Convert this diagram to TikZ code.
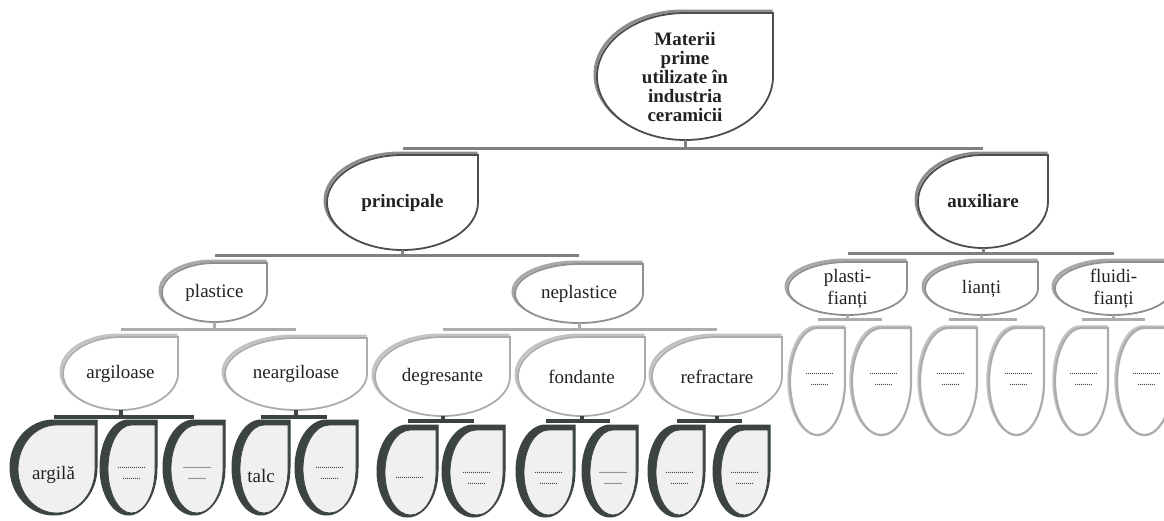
\documentclass[tikz,border=0pt]{standalone}
\usepackage{fontspec}
\setmainfont{Liberation Serif}
\usetikzlibrary{calc}
\pgfdeclarelayer{bg}
\pgfsetlayers{bg,main}
\definecolor{cone}{HTML}{4D4D4D}
\definecolor{conesh}{HTML}{8C8C8C}
\definecolor{ctwo}{HTML}{8F8F8F}
\definecolor{ctwosh}{HTML}{A8A8A8}
\definecolor{cthree}{HTML}{ACACAC}
\definecolor{cthreesh}{HTML}{C2C2C2}
\definecolor{cdark}{HTML}{3B4343}
\definecolor{clight}{HTML}{F0F0F0}
\definecolor{ctext}{HTML}{222222}
\definecolor{cdash}{HTML}{444444}
% node box: name, x1, y1, x2, y2, style, text
\newcommand\bx[7]{\node[#6,minimum width={#4pt-#2pt},minimum height={#5pt-#3pt}] (#1) at ({(#2+#4)/2},{(#3+#5)/2}) {#7};}
% teardrop inside a node box: style, node, insets left, top, right, bottom
\newcommand\tdrop[6]{%
 \path[#1] let \p1=(#2.south west), \p2=(#2.north east) in
 ({\x2-(#5)},{\y2-(#4)}) -- ({\x2-(#5)},{(\y1+(#6)+\y2-(#4))/2})
 arc[start angle=0,end angle=-90,x radius={(\x2-\x1-(#3)-(#5))/2},y radius={(\y2-\y1-(#4)-(#6))/2}]
 arc[start angle=-90,end angle=-180,x radius={(\x2-\x1-(#3)-(#5))/2},y radius={(\y2-\y1-(#4)-(#6))/2}]
 arc[start angle=180,end angle=90,x radius={(\x2-\x1-(#3)-(#5))/2},y radius={(\y2-\y1-(#4)-(#6))/2}]
 -- cycle;}
\newcommand\dashA{..............}
\newcommand\dashB{.........}
\begin{document}
\begin{tikzpicture}[x=1pt,y=-1pt,
  base/.style={inner sep=0pt,outer sep=0pt,align=center,text=ctext},
  nbold/.style={base,font=\fontsize{19}{19}\selectfont\bfseries},
  nreg/.style={base,font=\fontsize{19}{22}\selectfont},
  nleaf/.style={base},
  dsh/.style={inner sep=0pt,align=center,text=cdash,font=\fontsize{8}{11}\selectfont\bfseries},
  sone/.style={draw=cone,line width=1.8pt,fill=white},
  sonesh/.style={draw=conesh,line width=3pt},
  stwo/.style={draw=ctwo,line width=1.8pt,fill=white},
  stwosh/.style={draw=ctwosh,line width=3pt},
  sthree/.style={draw=cthree,line width=1.8pt,fill=white},
  sthreesh/.style={draw=cthreesh,line width=3pt},
  leafo/.style={fill=cdark,draw=cdark,line width=1pt},
  leafi/.style={fill=clight,draw=cdark,line width=0.8pt},
  rleaf/.style={draw=cthree,line width=2.2pt,fill=white},
  rleafsh/.style={draw=cthreesh,line width=2.5pt},
  barone/.style={draw=gray,line width=3pt},
  bartwo/.style={draw=cthree,line width=3pt},
  bardark/.style={draw=cdark,line width=4pt}]
\useasboundingbox (0,0) rectangle (1164,520);
% level 1
\bx{T}{597}{13}{773}{140}{nbold}{Materii\\prime\\utilizate în\\industria\\ceramicii}
\bx{P}{327}{155}{478}{250}{nbold}{principale}
\bx{A}{918}{155}{1048}{248}{nbold}{auxiliare}
% level 2
\bx{PL}{162}{263}{267}{322}{nreg}{plastice}
\bx{NP}{515}{264}{643}{323}{nreg}{neplastice}
\bx{PF}{788}{262}{907}{315}{nreg}{plasti-\\fianți}
\bx{LI}{925}{262}{1038}{315}{nreg}{lianți}
\bx{FF}{1055}{262}{1172}{315}{nreg}{fluidi-\\fianți}
% level 3
\bx{AR}{63}{337}{178}{410}{nreg}{argiloase}
\bx{NA}{225}{338}{367}{410}{nreg}{neargiloase}
\bx{DG}{375}{337}{510}{416}{nreg}{degresante}
\bx{FO}{518}{337}{645}{416}{nreg}{fondante}
\bx{RF}{652}{337}{782}{416}{nreg}{refractare}
% dark leaves
\bx{L1}{10}{420}{97}{515}{nleaf}{}
\bx{L2}{100}{420}{157}{515}{nleaf}{}
\bx{L3}{163}{420}{225}{515}{nleaf}{}
\bx{L4}{232}{420}{290}{515}{nleaf}{}
\bx{L5}{295}{420}{358}{515}{nleaf}{}
\bx{L6}{377}{425}{438}{517}{nleaf}{}
\bx{L7}{442}{425}{505}{517}{nleaf}{}
\bx{L8}{516}{425}{575}{517}{nleaf}{}
\bx{L9}{582}{425}{638}{517}{nleaf}{}
\bx{L10}{648}{425}{705}{517}{nleaf}{}
\bx{L11}{713}{425}{770}{517}{nleaf}{}
% light leaves
\bx{R1}{790}{328}{845}{435}{nleaf}{}
\bx{R2}{852}{328}{911}{435}{nleaf}{}
\bx{R3}{920}{328}{977}{435}{nleaf}{}
\bx{R4}{989}{328}{1044}{435}{nleaf}{}
\bx{R5}{1055}{328}{1108}{435}{nleaf}{}
\bx{R6}{1117}{328}{1172}{435}{nleaf}{}
% leaf texts
\node[nreg] (t1) at ($(L1.center)+(0,7)$) {argilă};
\node[dsh] (t2) at ($(L2.center)+(3,6)$) {\dashA\\\dashB};
\node[dsh] (t3) at ($(L3.center)+(3,6)$) {\dashA\\\dashB};
\node[nreg] (t4) at ($(L4.center)+(0,8)$) {talc};
\node[dsh] (t5) at ($(L5.center)+(3,6)$) {\dashA\\\dashB};
\node[dsh] (t6) at ($(L6.center)+(2,7)$) {\dashA};
\node[dsh] (t7) at ($(L7.center)+(3,7)$) {\dashA\\\dashB};
\node[dsh] (t8) at ($(L8.center)+(3,7)$) {\dashA\\\dashB};
\node[dsh] (t9) at ($(L9.center)+(3,7)$) {\dashA\\\dashB};
\node[dsh] (t10) at ($(L10.center)+(3,7)$) {\dashA\\\dashB};
\node[dsh] (t11) at ($(L11.center)+(3,7)$) {\dashA\\\dashB};
\node[dsh] (r1) at ($(R1.center)+(2,-2)$) {\dashA\\\dashB};
\node[dsh] (r2) at ($(R2.center)+(2,-2)$) {\dashA\\\dashB};
\node[dsh] (r3) at ($(R3.center)+(2,-2)$) {\dashA\\\dashB};
\node[dsh] (r4) at ($(R4.center)+(2,-2)$) {\dashA\\\dashB};
\node[dsh] (r5) at ($(R5.center)+(2,-2)$) {\dashA\\\dashB};
\node[dsh] (r6) at ($(R6.center)+(2,-2)$) {\dashA\\\dashB};
\begin{pgfonlayer}{bg}
\foreach \nm in {T,P,A}{\tdrop{sonesh}{\nm}{-2pt}{-2pt}{2pt}{2pt}\tdrop{sone}{\nm}{0pt}{0pt}{0pt}{0pt}}
\foreach \nm in {PL,NP,PF,LI,FF}{\tdrop{stwosh}{\nm}{-2pt}{-2pt}{2pt}{2pt}\tdrop{stwo}{\nm}{0pt}{0pt}{0pt}{0pt}}
\foreach \nm in {AR,NA,DG,FO,RF}{\tdrop{sthreesh}{\nm}{-2pt}{-2pt}{2pt}{2pt}\tdrop{sthree}{\nm}{0pt}{0pt}{0pt}{0pt}}
\foreach \nm in {L1,L2,L3,L4,L5,L6,L7,L8,L9,L10,L11}{\tdrop{leafo}{\nm}{0pt}{0pt}{0pt}{0pt}\tdrop{leafi}{\nm}{8pt}{5pt}{2pt}{2pt}}
\foreach \nm in {R1,R2,R3,R4,R5,R6}{\tdrop{rleafsh}{\nm}{-1.5pt}{-1.5pt}{1.5pt}{1.5pt}\tdrop{rleaf}{\nm}{0pt}{0pt}{0pt}{0pt}}
% connectors
\coordinate (bT) at ($(T.south)+(0,8)$);
\draw[barone] (T.south) -- (bT);
\draw[barone] (bT -| P.north) -- (bT -| A.north);
\coordinate (bP) at ($(P.south)+(0,5)$);
\draw[barone] (P.south) -- (bP);
\draw[barone] (bP -| PL.north) -- (bP -| NP.north);
\coordinate (bA) at ($(A.south)+(0,5)$);
\draw[barone] (A.south) -- (bA);
\draw[barone] (bA -| PF.north) -- (bA -| FF.north);
\coordinate (bPL) at ($(PL.south)+(0,7)$);
\draw[bartwo] (PL.south) -- (bPL);
\draw[bartwo] (bPL -| AR.north) -- (bPL -| NA.north);
\coordinate (bNP) at ($(NP.south)+(0,6)$);
\draw[bartwo] (NP.south) -- (bNP);
\draw[bartwo] (bNP -| DG.north) -- (bNP -| RF.north);
\coordinate (bAR) at ($(AR.south)+(0,7)$);
\draw[bardark] (AR.south) -- (bAR);
\draw[bardark] (bAR -| L1.north) -- (bAR -| L3.north);
\coordinate (bNA) at ($(NA.south)+(0,7)$);
\draw[bardark] (NA.south) -- (bNA);
\draw[bardark] (bNA -| L4.north) -- (bNA -| L5.north);
\coordinate (bDG) at ($(DG.south)+(0,5)$);
\draw[bardark] (DG.south) -- (bDG);
\draw[bardark] (bDG -| L6.north) -- (bDG -| L7.north);
\coordinate (bFO) at ($(FO.south)+(0,5)$);
\draw[bardark] (FO.south) -- (bFO);
\draw[bardark] (bFO -| L8.north) -- (bFO -| L9.north);
\coordinate (bRF) at ($(RF.south)+(0,5)$);
\draw[bardark] (RF.south) -- (bRF);
\draw[bardark] (bRF -| L10.north) -- (bRF -| L11.north);
\coordinate (bPF) at ($(PF.south)+(0,4)$);
\draw[bartwo] (PF.south) -- (bPF);
\draw[bartwo] (bPF -| R1.north) -- (bPF -| R2.north);
\coordinate (bLI) at ($(LI.south)+(0,4)$);
\draw[bartwo] (LI.south) -- (bLI);
\draw[bartwo] (bLI -| R3.north) -- (bLI -| R4.north);
\coordinate (bFF) at ($(FF.south)+(0,4)$);
\draw[bartwo] (FF.south) -- (bFF);
\draw[bartwo] (bFF -| R5.north) -- (bFF -| R6.north);
\end{pgfonlayer}
\end{tikzpicture}
\end{document}
